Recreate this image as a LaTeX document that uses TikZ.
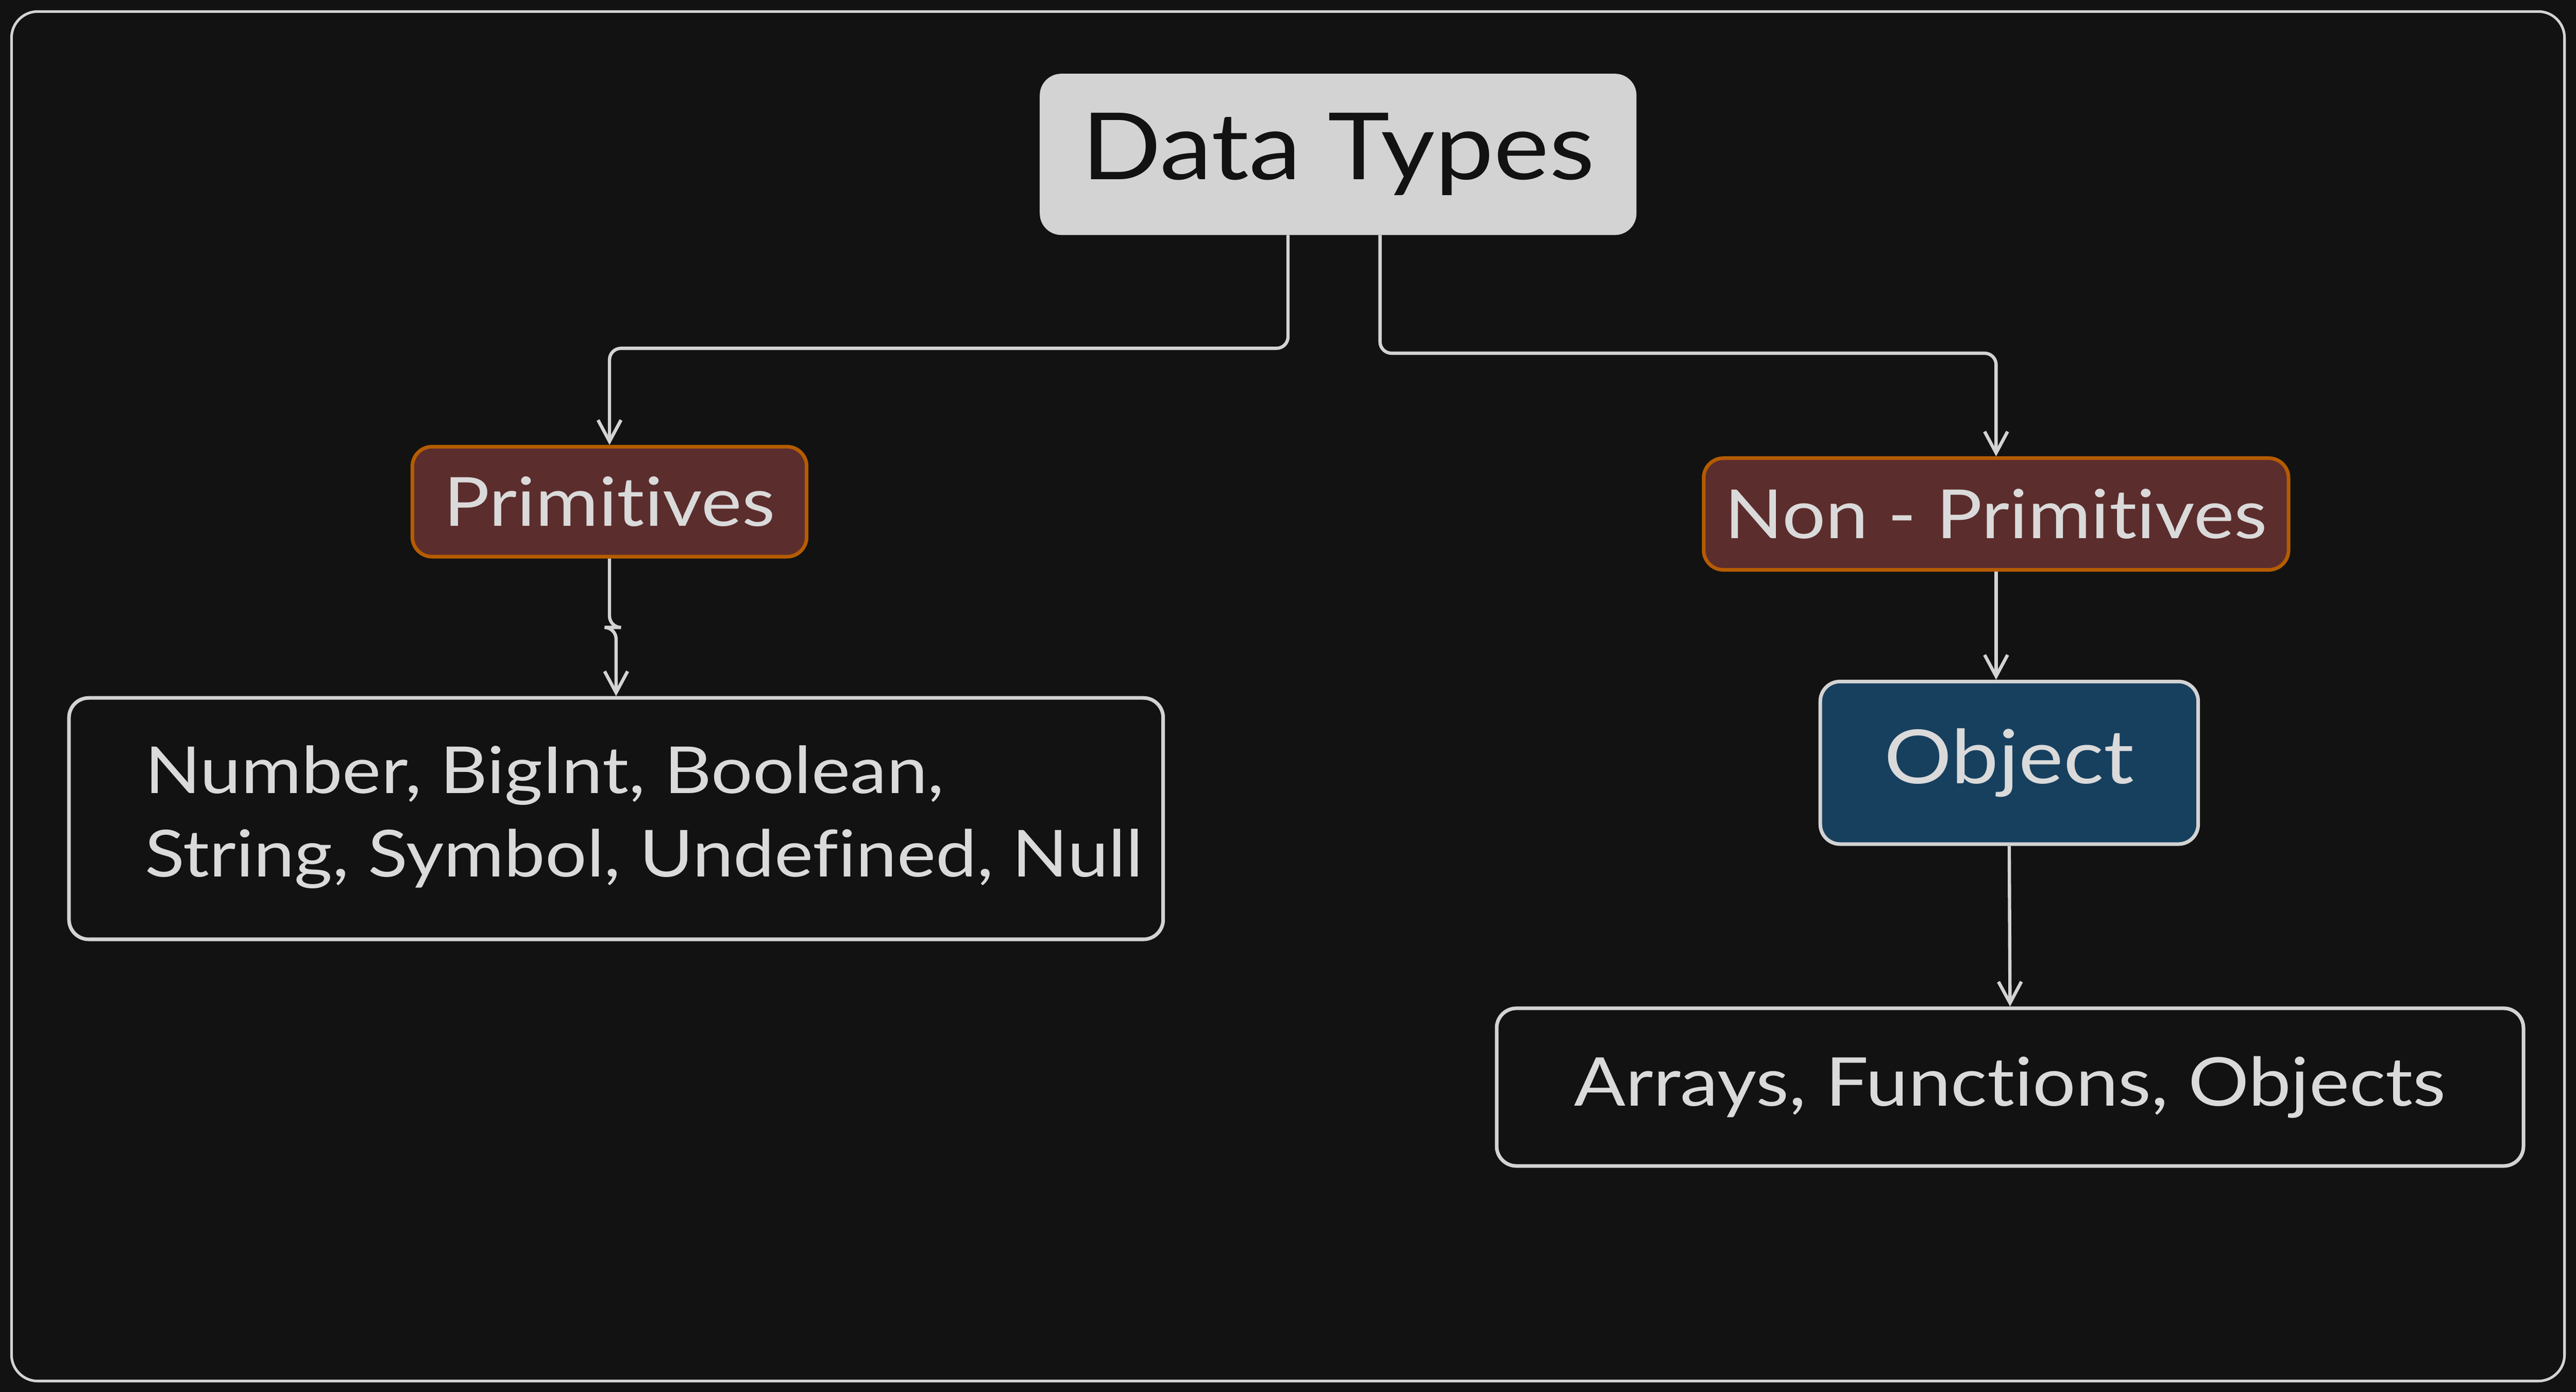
\documentclass[tikz,border=0pt]{standalone}
\usepackage{fontspec}
\setmainfont{Lato}[FakeStretch=1.13,Ligatures=NoCommon]
\usetikzlibrary{arrows.meta,calc}
\definecolor{bg}{HTML}{121212}
\definecolor{ink}{HTML}{D3D3D3}
\definecolor{txt}{HTML}{DADADA}
\definecolor{orng}{HTML}{B55C00}
\definecolor{maroonfill}{HTML}{5C2D2D}
\definecolor{navyfill}{HTML}{17405F}
\begin{document}
\begin{tikzpicture}[x=1pt,y=1pt,
  box/.style={draw=ink, line width=2.2pt, rounded corners=12pt, inner sep=0pt, text=txt},
  catbox/.style={box, draw=orng, fill=maroonfill, font=\fontsize{41.3}{46}\selectfont},
  conn/.style={draw=ink, line width=2pt, rounded corners=7pt, -{Straight Barb[length=13pt,width=14pt,line width=2pt]}},
  ]
\fill[bg] (0,0) rectangle (1568,-847.6);
\useasboundingbox (0,0) rectangle (1568,-847.6);
\draw[ink, line width=1.6pt, rounded corners=16pt] (7,-7) rectangle (1561,-841);

\node[box, fill=ink, minimum width=361pt, minimum height=96pt, text=bg, font=\fontsize{56.5}{60}\selectfont] (dt) at (814.5,-94) {Data Types};
\node[catbox, minimum width=240pt, minimum height=67pt] (prim) at (371,-305.5) {Primitives};
\node[catbox, minimum width=356pt, minimum height=68pt] (nonp) at (1215,-313) {Non - Primitives};
\node[box, fill=navyfill, minimum width=230pt, minimum height=99pt, font=\fontsize{45.5}{52}\selectfont] (obj) at (1223,-464.5) {Object};
\node[box, minimum width=666pt, minimum height=147pt] (list) at (375,-498.5) {};
\node[anchor=west, align=left, text=txt, inner sep=0pt, font=\fontsize{39.5}{51}\selectfont] (listtxt) at (88,-497.5) {Number, BigInt, Boolean,\\String, Symbol, Undefined, Null};
\node[box, minimum width=625pt, minimum height=96pt, font=\fontsize{41}{46}\selectfont] (arr) at (1223.5,-662) {Arrays, Functions, Objects};

\coordinate (s1) at ($(dt.south)+(-30.5,0)$);
\coordinate (s2) at ($(dt.south)+(25.5,0)$);
\draw[conn] (s1) -- ++(0,-69) -| (prim.north);
\draw[conn] (s2) -- ++(0,-72) -| (nonp.north);
\draw[conn] (prim.south) -- ++(0,-42) -| (list.north);
\draw[conn] (nonp.south) -- (nonp.south |- obj.north);
\draw[conn] (obj.south) -- (arr.north);
\end{tikzpicture}
\end{document}
